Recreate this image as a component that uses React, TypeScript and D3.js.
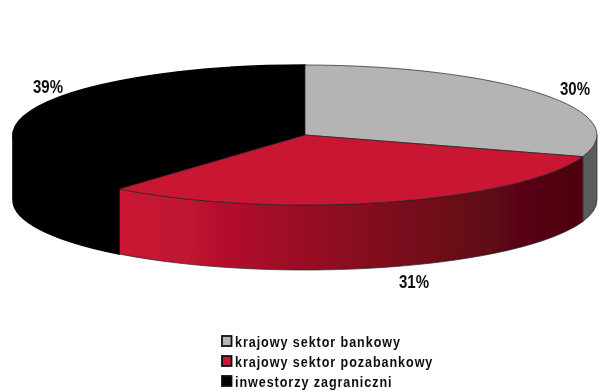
import React from "react";
import * as d3 from "d3";

const categories = ["krajowy sektor bankowy", "krajowy sektor pozabankowy", "inwestorzy zagraniczni"];
const shares = [30, 31, 39];
const topColors = ["#b4b4b4", "#c91532", "#000000"];
const sideFills = ["#5a5c5c", "url(#redSide)", "#000000"];
const labelText = ["30%", "31%", "39%"];

const W = 598, H = 391;
const cx = 305, cy = 135, rx = 292, ry = 70, depth = 65;

const slices = d3.pie<number>().sort(null).startAngle(0).endAngle(2 * Math.PI)(shares);
const unitArc = d3.arc<any>().innerRadius(0).outerRadius(1);
const px = (a: number) => cx + rx * Math.sin(a);
const py = (a: number) => cy - ry * Math.cos(a);

function wallPath(a0: number, a1: number) {
  const s = Math.max(a0, Math.PI / 2), e = Math.min(a1, 1.5 * Math.PI);
  if (e <= s) return "";
  return `M${px(s)},${py(s)}A${rx},${ry} 0 0 1 ${px(e)},${py(e)}L${px(e)},${py(e) + depth}A${rx},${ry} 0 0 0 ${px(s)},${py(s) + depth}Z`;
}

const labelPos = [
  { x: 575, y: 95 },
  { x: 414, y: 288 },
  { x: 48, y: 93 },
];

const walls = slices.map((s, i) => ({ a0: s.startAngle, a1: s.endAngle, fill: sideFills[i] }));

const legendY = d3.scalePoint<string>().domain(categories).range([342, 382]);
const edge = ["#222222", "#222222", "#000000"];
const edgeWidth = [0.7, 0.7, 1.6];

export default function App() {
  return (
    <svg width={W} height={H} viewBox={`0 0 ${W} ${H}`} style={{ position: "fixed", left: 0, top: 0, background: "#fff" }}>
      <defs>
        <linearGradient id="redSide" gradientUnits="userSpaceOnUse" x1={118} x2={583} y1={0} y2={0}>
          <stop offset="0" stopColor="#cb1431" />
          <stop offset="0.15" stopColor="#c01230" />
          <stop offset="0.5" stopColor="#8a0d20" />
          <stop offset="0.8" stopColor="#5f0714" />
          <stop offset="1" stopColor="#4e0410" />
        </linearGradient>
        <filter id="soft"><feGaussianBlur stdDeviation="0.4" /></filter>
      </defs>
      <g filter="url(#soft)">
        {walls.map((w, i) => (
          <path key={i} d={wallPath(w.a0, w.a1)} fill={w.fill} stroke={edge[i]} strokeWidth={edgeWidth[i]} />
        ))}
        {[2, 0, 1].map((i) => (
          <path
            key={i}
            d={unitArc(slices[i]) as string}
            transform={`translate(${cx},${cy}) scale(${rx},${ry})`}
            fill={topColors[i]}
            stroke={edge[i]}
            strokeWidth={edgeWidth[i]}
            vectorEffect="non-scaling-stroke"
          />
        ))}
        {labelText.map((t, i) => (
          <text key={i} transform={`translate(${labelPos[i].x},${labelPos[i].y}) scale(0.86,1)`} textAnchor="middle" fontFamily="Liberation Sans" fontWeight="bold" fontSize={17.5} fill="#111">{t}</text>
        ))}
        {categories.map((c, i) => {
          const y = legendY(c)!;
          return (
            <g key={c}>
              <rect x={222} y={y - 6} width={9.5} height={10} fill={topColors[i]} stroke="#111" strokeWidth={1.8} />
              <text transform={`translate(235,${y + 4.5}) scale(0.84,1)`} fontFamily="Liberation Sans" fontWeight="bold" fontSize={15} letterSpacing={1.1} fill="#111">{c}</text>
            </g>
          );
        })}
      </g>
    </svg>
  );
}
